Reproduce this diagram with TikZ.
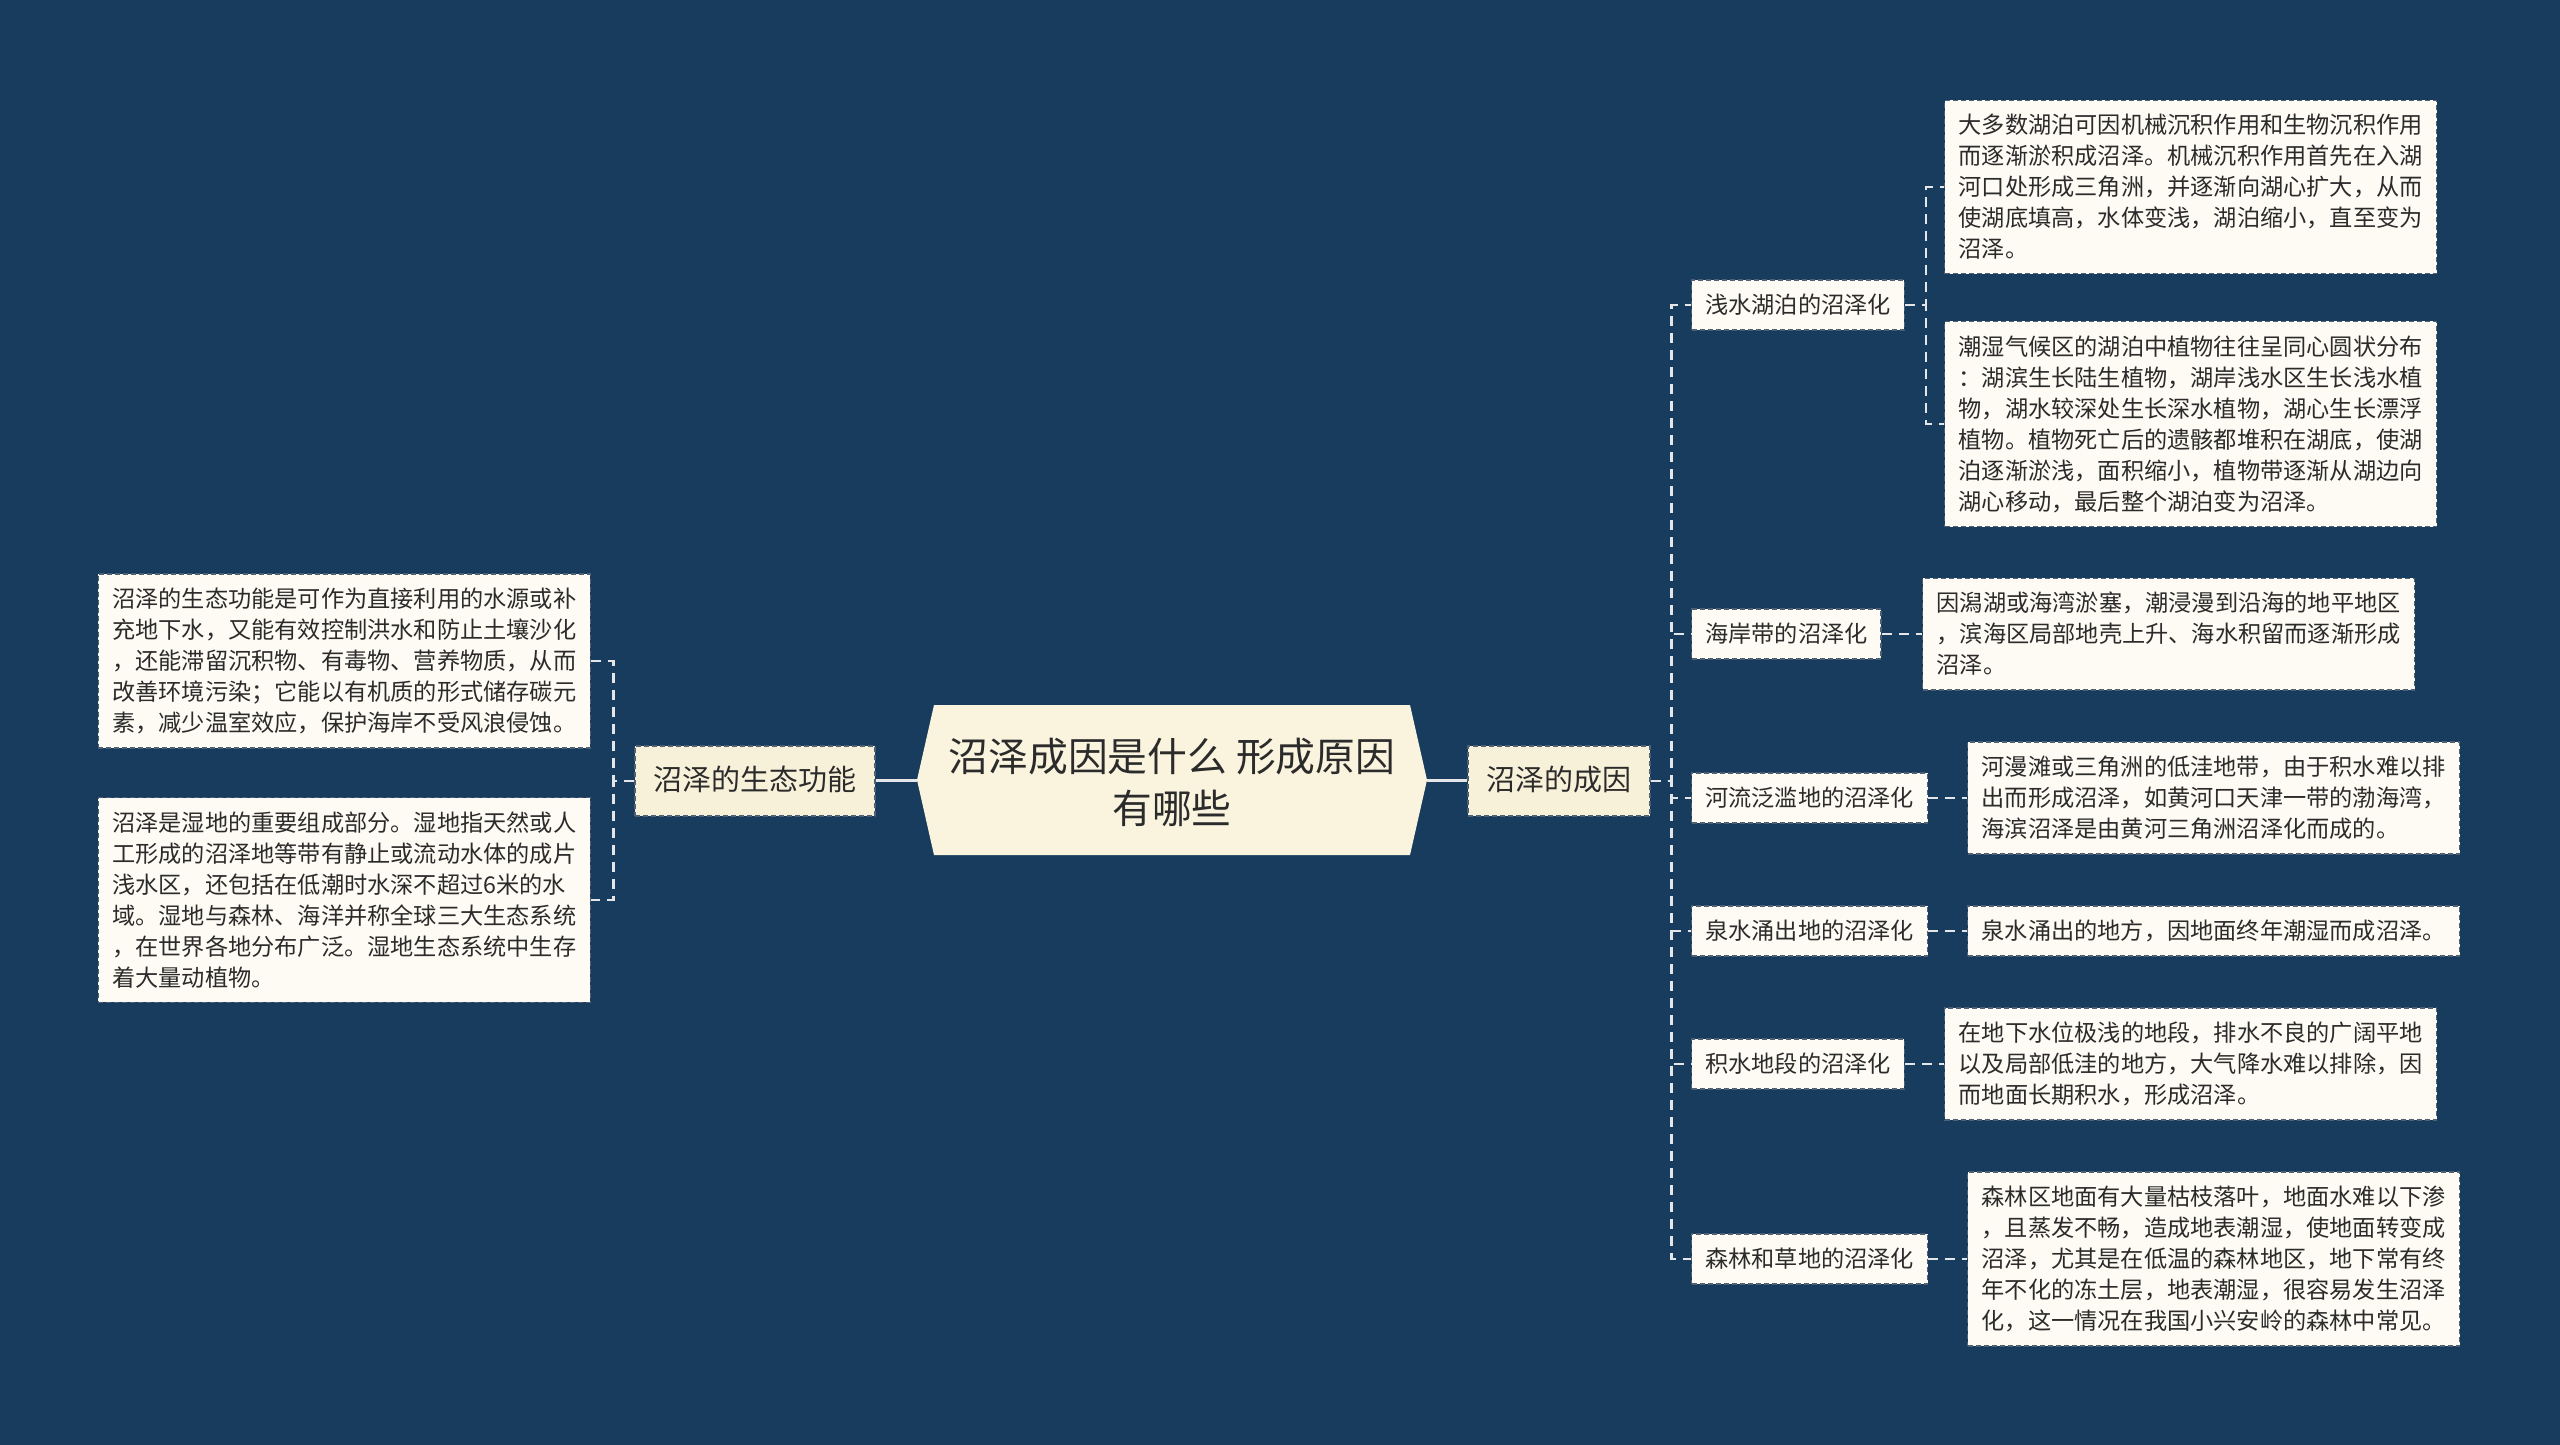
\documentclass[tikz,border=0pt]{standalone}
\usepackage{fontspec}
\setmainfont{Noto Sans CJK SC}
\definecolor{bgc}{HTML}{173C5D}
\definecolor{connc}{HTML}{E4E6E8}
\definecolor{rootf}{HTML}{FAF4DF}
\definecolor{lonef}{HTML}{F8F1DA}
\definecolor{leaff}{HTML}{FDFBF3}
\definecolor{txtc}{HTML}{2B2B2B}
\definecolor{edgec}{HTML}{4F6072}
\begin{document}
\begin{tikzpicture}[x=1pt,y=-1pt,
  boxbase/.style={draw=edgec, dash pattern=on 5pt off 3pt, line width=1.4pt, text=txtc},
  leafbox/.style={boxbase, fill=leaff, align=left, inner xsep=14pt, inner ysep=14pt,
    font=\fontsize{23.2}{31}\selectfont},
  lvtwo/.style={boxbase, fill=leaff, align=center, inner xsep=13.5pt, inner ysep=13pt,
    text height=20pt, text depth=4pt, font=\fontsize{23.2}{28}\selectfont},
  lvone/.style={boxbase, fill=lonef, align=center, inner xsep=18.5pt, inner ysep=20pt,
    text height=24pt, text depth=6pt, font=\fontsize{29}{35}\selectfont},
  conn/.style={draw=connc, line width=2.5pt, dash pattern=on 10pt off 7pt},
  solidconn/.style={draw=connc, line width=3pt}]

\fill[bgc] (0,0) rectangle (2560,1445);
\useasboundingbox (0,0) rectangle (2560,1445);

% central node
\fill[rootf] (934,705) -- (1410,705) -- (1427,780) -- (1410,855) -- (934,855) -- (917,780) -- cycle;
\coordinate (rootL) at (917,780);
\coordinate (rootR) at (1427,780);
\node[text=txtc, align=center, inner sep=0pt, font=\fontsize{39.8}{52}\selectfont] (root) at (1172,782)
  {沼泽成因是什么 形成原因\\有哪些};

% level one
\node[lvone] (ecol) at (755,781) {沼泽的生态功能};
\node[lvone] (cause) at (1559,781) {沼泽的成因};

% left leaves
\node[leafbox, anchor=east] (leafLa) at (591,661) {沼泽的生态功能是可作为直接利用的水源或补\\充地下水，又能有效控制洪水和防止土壤沙化\\，还能滞留沉积物、有毒物、营养物质，从而\\改善环境污染；它能以有机质的形式储存碳元\\素，减少温室效应，保护海岸不受风浪侵蚀。};
\node[leafbox, anchor=east] (leafLb) at (591,900) {沼泽是湿地的重要组成部分。湿地指天然或人\\工形成的沼泽地等带有静止或流动水体的成片\\浅水区，还包括在低潮时水深不超过6米的水\\域。湿地与森林、海洋并称全球三大生态系统\\，在世界各地分布广泛。湿地生态系统中生存\\着大量动植物。};

% level two
\node[lvtwo, anchor=west] (lva) at (1691,305) {浅水湖泊的沼泽化};
\node[lvtwo, anchor=west] (lvb) at (1691,634) {海岸带的沼泽化};
\node[lvtwo, anchor=west] (lvc) at (1691,798) {河流泛滥地的沼泽化};
\node[lvtwo, anchor=west] (lvd) at (1691,931) {泉水涌出地的沼泽化};
\node[lvtwo, anchor=west] (lve) at (1691,1064) {积水地段的沼泽化};
\node[lvtwo, anchor=west] (lvf) at (1691,1259) {森林和草地的沼泽化};

% right leaves
\node[leafbox, anchor=west] (ra) at (1944,187) {大多数湖泊可因机械沉积作用和生物沉积作用\\而逐渐淤积成沼泽。机械沉积作用首先在入湖\\河口处形成三角洲，并逐渐向湖心扩大，从而\\使湖底填高，水体变浅，湖泊缩小，直至变为\\沼泽。};
\node[leafbox, anchor=west] (rb) at (1944,424) {潮湿气候区的湖泊中植物往往呈同心圆状分布\\：湖滨生长陆生植物，湖岸浅水区生长浅水植\\物，湖水较深处生长深水植物，湖心生长漂浮\\植物。植物死亡后的遗骸都堆积在湖底，使湖\\泊逐渐淤浅，面积缩小，植物带逐渐从湖边向\\湖心移动，最后整个湖泊变为沼泽。};
\node[leafbox, anchor=west] (rc) at (1922,634) {因潟湖或海湾淤塞，潮浸漫到沿海的地平地区\\，滨海区局部地壳上升、海水积留而逐渐形成\\沼泽。};
\node[leafbox, anchor=west] (rd) at (1967,798) {河漫滩或三角洲的低洼地带，由于积水难以排\\出而形成沼泽，如黄河口天津一带的渤海湾，\\海滨沼泽是由黄河三角洲沼泽化而成的。};
\node[leafbox, anchor=west] (re) at (1967,931) {泉水涌出的地方，因地面终年潮湿而成沼泽。};
\node[leafbox, anchor=west] (rf) at (1944,1064) {在地下水位极浅的地段，排水不良的广阔平地\\以及局部低洼的地方，大气降水难以排除，因\\而地面长期积水，形成沼泽。};
\node[leafbox, anchor=west] (rg) at (1967,1259) {森林区地面有大量枯枝落叶，地面水难以下渗\\，且蒸发不畅，造成地表潮湿，使地面转变成\\沼泽，尤其是在低温的森林地区，地下常有终\\年不化的冻土层，地表潮湿，很容易发生沼泽\\化，这一情况在我国小兴安岭的森林中常见。};

% connectors
\draw[solidconn] (rootL) -- (rootL -| ecol.east);
\draw[solidconn] (rootR) -- (rootR -| cause.west);
\draw[conn] (ecol.west) -- ++(-21,0) |- (leafLa.east);
\draw[conn] (ecol.west) -- ++(-21,0) |- (leafLb.east);
\foreach \n in {lva,lvb,lvc,lvd,lve,lvf}
  \draw[conn] (cause.east) -- ++(21,0) |- (\n.west);
\draw[conn] (lva.east) -- ++(21,0) |- (ra.west);
\draw[conn] (lva.east) -- ++(21,0) |- (rb.west);
\draw[conn] (lvb.east) -- (lvb.east -| rc.west);
\draw[conn] (lvc.east) -- (lvc.east -| rd.west);
\draw[conn] (lvd.east) -- (lvd.east -| re.west);
\draw[conn] (lve.east) -- (lve.east -| rf.west);
\draw[conn] (lvf.east) -- (lvf.east -| rg.west);
\end{tikzpicture}
\end{document}
